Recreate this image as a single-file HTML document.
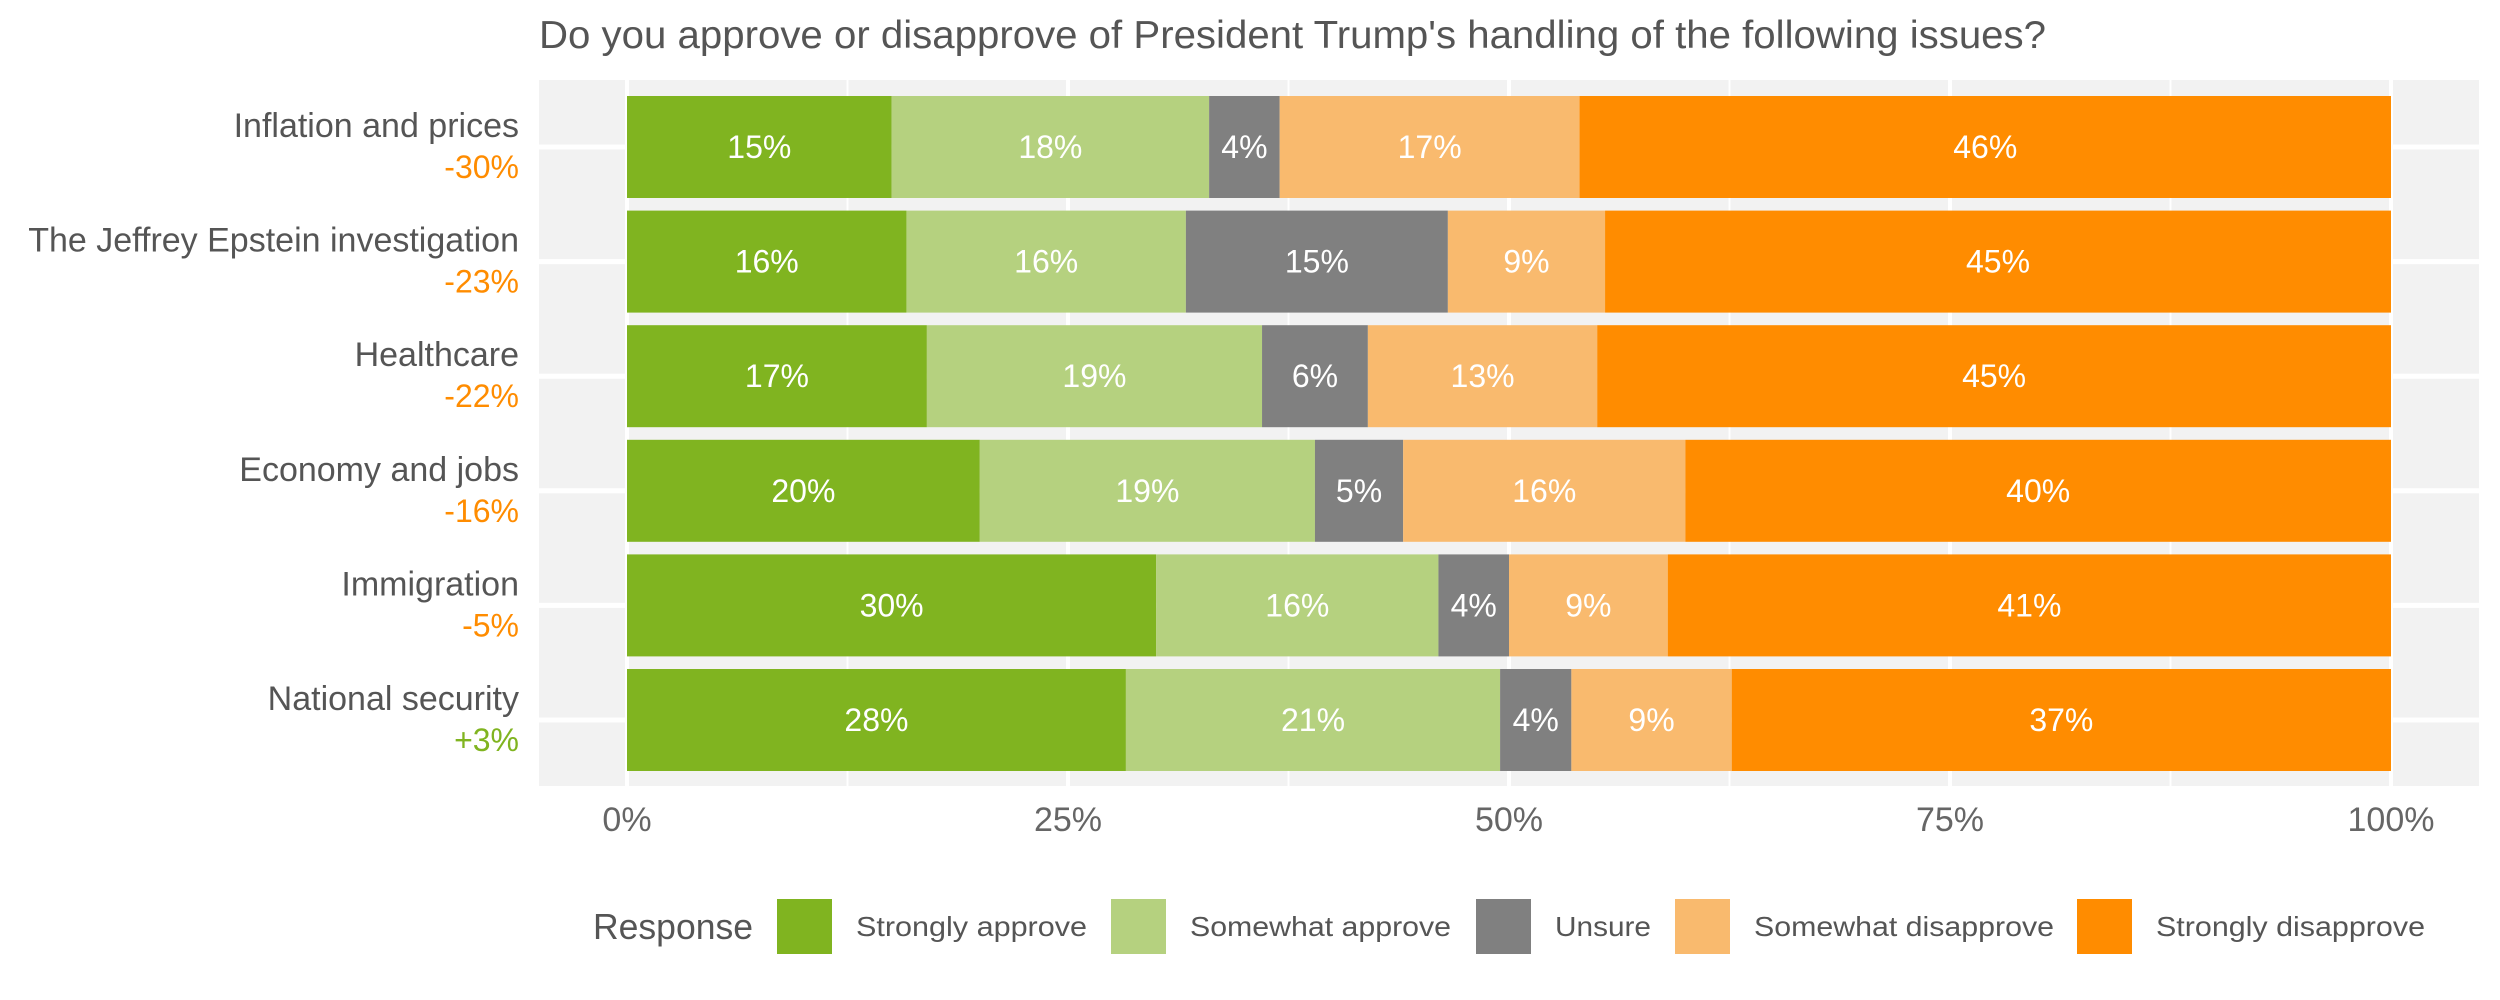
<!DOCTYPE html>
<html><head><meta charset="utf-8"><style>
body{margin:0;background:#fff;}
svg{display:block;font-family:"Liberation Sans",sans-serif;}
</style></head><body>
<svg id="chart" width="2500" height="1000" viewBox="0 0 2500 1000" xmlns="http://www.w3.org/2000/svg">
<rect width="2500" height="1000" fill="#fff"/>
<text x="539" y="48" font-size="39" fill="#555" textLength="1507" lengthAdjust="spacingAndGlyphs">Do you approve or disapprove of President Trump's handling of the following issues?</text>
<rect x="539" y="80" width="1940" height="706" fill="#f2f2f2"/>
<g id="grid"></g><g id="bars"></g><g id="ylabels"></g><g id="xticks"></g><g id="legend"></g>
</svg>
<script>
const categories=["Inflation and prices","The Jeffrey Epstein investigation","Healthcare","Economy and jobs","Immigration","National security"];
const netValues=[-30,-23,-22,-16,-5,3];
const responses=["Strongly approve","Somewhat approve","Unsure","Somewhat disapprove","Strongly disapprove"];
const colors=["#80b420","#b5d17f","#808080","#f9ba6e","#ff8c00"];
const stronglyApprove=[15,16,17,20,30,28];
const somewhatApprove=[18,16,19,19,16,21];
const unsure=[4,15,6,5,4,4];
const somewhatDisapprove=[17,9,13,16,9,9];
const stronglyDisapprove=[46,45,45,40,41,37];
const xTicks=[0,25,50,75,100];
const xTickLabels=["0%","25%","50%","75%","100%"];

const NS="http://www.w3.org/2000/svg";
const X0=627,X1=2391,PT=80,PB=786,PL=539,PR=2479;
const x=v=>X0+(X1-X0)*v/100;
const rowTop=i=>96+i*114.6, barH=102;
const yc=i=>rowTop(i)+barH/2;
function mk(tag,attrs,parent){const e=document.createElementNS(NS,tag);for(const k in attrs)e.setAttribute(k,attrs[k]);document.getElementById(parent).appendChild(e);return e;}

for(let t=12.5;t<100;t+=25){
  const g=mk('line',{x1:x(t),x2:x(t),y1:PT,y2:PB,stroke:'#fff','stroke-width':2},'grid');
  
  
}
xTicks.forEach((t,i)=>{
  const g=mk('line',{x1:x(t),x2:x(t),y1:PT,y2:PB,stroke:'#fff','stroke-width':4},'grid');
  
  
  const tx=mk('text',{x:x(t),y:831,'font-size':34,fill:'#666','text-anchor':'middle'},'xticks');
  tx.textContent=xTickLabels[i];
  
  
});
categories.forEach((c,i)=>{
  const g=mk('line',{x1:PL,x2:PR,y1:yc(i),y2:yc(i),stroke:'#fff','stroke-width':5},'grid');
  
  
});
const series=[stronglyApprove,somewhatApprove,unsure,somewhatDisapprove,stronglyDisapprove];
categories.forEach((c,i)=>{
  const vals=series.map(s=>s[i]);
  const tot=vals.reduce((a,b)=>a+b,0);
  let cum=0;
  vals.forEach((v,j)=>{
    const a=x(cum/tot*100), b=x((cum+v)/tot*100);
    const r=mk('rect',{x:a,y:rowTop(i),width:b-a,height:barH,fill:colors[j]},'bars');
    
    
    const t=mk('text',{x:(a+b)/2,y:yc(i)+11,'font-size':32,fill:'#fff','text-anchor':'middle'},'bars');
    t.textContent=v+'%';
    
    
    cum+=v;
  });
  const l=mk('text',{x:519,y:yc(i)-10,'font-size':34,fill:'#555','text-anchor':'end'},'ylabels');
  l.textContent=c;
  
  
  const n=netValues[i];
  const nl=mk('text',{x:519,y:yc(i)+31,'font-size':32,fill:n>=0?'#80b420':'#ff8c00','text-anchor':'end'},'ylabels');
  nl.textContent=(n>0?'+':'')+n+'%';
  
  
});
const lt=mk('text',{x:593,y:939,'font-size':36,fill:'#555',textLength:160,lengthAdjust:'spacingAndGlyphs'},'legend');
lt.textContent='Response';


const keyX=[777,1111,1476,1675,2077];
const labelW=[231,261,96,300,269];
responses.forEach((r,j)=>{
  const k=mk('rect',{x:keyX[j],y:899,width:55,height:55,fill:colors[j]},'legend');
  
  
  const t=mk('text',{x:keyX[j]+79,y:936,'font-size':28,fill:'#555',textLength:labelW[j],lengthAdjust:'spacingAndGlyphs'},'legend');
  t.textContent=r;
  
  
});
</script>
</body></html>
